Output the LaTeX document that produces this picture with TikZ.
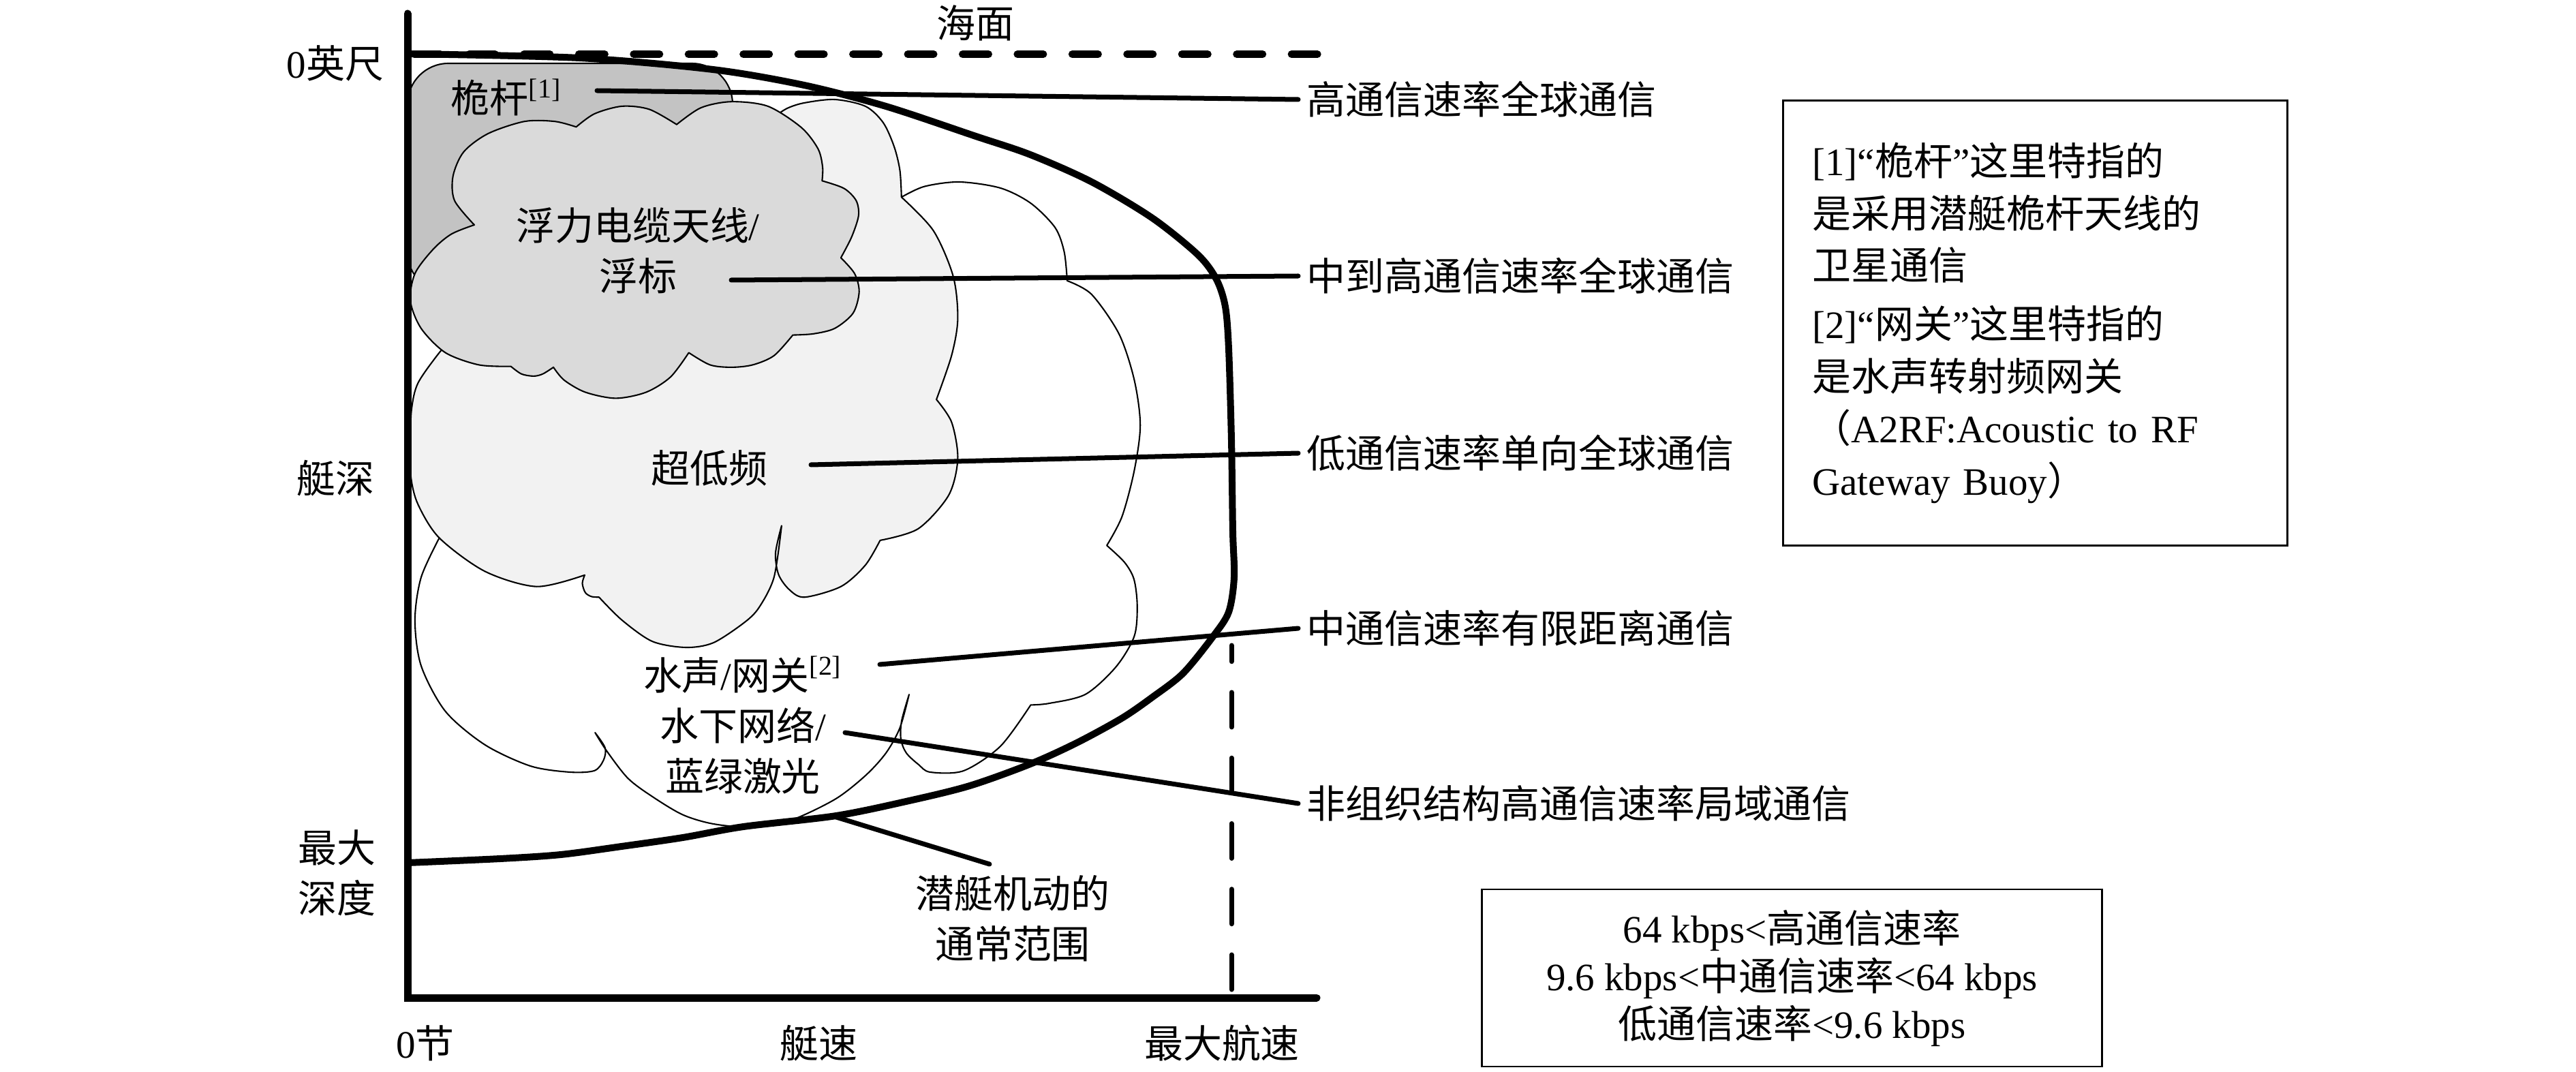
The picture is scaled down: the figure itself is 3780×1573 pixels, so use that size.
\documentclass[tikz,border=0pt]{standalone}
\usepackage{fontspec}
\setmainfont{Noto Sans CJK SC}
\newfontfamily\lt{Liberation Serif}
\newcommand\fs{\fontsize{16.2pt}{21pt}\selectfont}
\definecolor{gC0}{RGB}{195,195,195}
\definecolor{gD9}{RGB}{218,218,218}
\definecolor{gF2}{RGB}{242,242,242}
\tikzset{
  cl/.style={line width=0.021cm, line join=round},
  env/.style={line width=0.1cm, line join=round, line cap=round},
  axisline/.style={line width=0.11cm, line cap=round},
  lead/.style={line width=0.07cm, line cap=round},
  txt/.style={font=\fs, inner sep=0.05cm},
  rlbl/.style={font=\fs, anchor=west, inner xsep=0.12cm, inner ysep=0.05cm},
  framebox/.style={draw, line width=0.028cm, inner sep=0},
}
\begin{document}
\begin{tikzpicture}[x=0.01cm,y=-0.01cm]
\useasboundingbox (0,0) rectangle (3780,1573);

% acoustic cloud (white, outline only)
\draw[cl] plot[smooth] coordinates {(644.6,789.3) (617.9,847.3) (608.9,909.8) (617.9,976.8) (653.6,1043.8) (711.6,1092.9) (778.6,1124.1) (836.6,1133) (872.3,1130.8) (885.7,1115.2) (887.9,1097.3) (873.2,1075)}
 -- plot[smooth] coordinates {(873.2,1075) (890.2,1101.8) (921.4,1142) (957.1,1168.8) (1001.8,1195.5) (1046.4,1208.9) (1100,1213.4) (1158,1204.5) (1225,1173) (1270,1138) (1300,1105) (1320.5,1068) (1334,1019)}
 -- plot[smooth] coordinates {(1334,1019) (1323,1058) (1322,1085) (1330,1105) (1348,1122) (1365,1133) (1414,1131) (1468,1095) (1512.5,1034.4)}
 -- plot[smooth] coordinates {(1512.5,1034.4) (1539.3,1032.1) (1592.9,1018.75) (1637.5,978.6) (1664.3,933.9) (1668.75,889.3) (1664,850) (1650,825) (1624.1,800.4)}
 -- plot[smooth] coordinates {(1624.1,800.4) (1646.4,758) (1664.3,691) (1673.2,624) (1664.3,557) (1642,490) (1601.8,432) (1566,412)}
 -- plot[smooth] coordinates {(1566,412) (1561.6,369.6) (1548.2,333.9) (1512.5,298.2) (1467.9,275.9) (1407.6,267) (1356.25,273.7) (1322.8,289.3)};

% ELF cloud
\filldraw[cl, fill=gF2] plot[smooth] coordinates {(1135,172) (1155,159) (1180,151) (1225,146) (1270,156) (1296,180) (1312,215) (1320.5,250) (1322.8,289.3)}
 -- plot[smooth] coordinates {(1322.8,289.3) (1369.6,338.4) (1398.7,405.4) (1405.4,467.9) (1396.4,521.4) (1374.1,586.2)}
 -- plot[smooth] coordinates {(1374.1,586.2) (1396.4,619.6) (1405.4,673.2) (1392,726.8) (1347.3,775.9) (1291.5,792.9)}
 -- plot[smooth] coordinates {(1291.5,792.9) (1269.6,829.5) (1233.9,860.7) (1180.4,876.3) (1158,865) (1142.4,842.9) (1138,811.6) (1146.9,771.4)}
 -- plot[smooth] coordinates {(1146.9,771.4) (1135.7,847.3) (1113.4,892) (1091.1,914.3) (1046.4,943.3) (1006.2,950) (957.1,941.1) (912.5,909.8) (879,876.3)}
 -- plot[smooth] coordinates {(879,876.3) (867.9,875.4) (858.9,869.6) (854.5,856) (858,843.8)}
 -- plot[smooth] coordinates {(858,843.8) (787.5,860.7) (711.6,838.4) (644.6,789.3) (613.4,740.2) (603,700) (602,650) (604,600) (613.4,562) (644.6,517.5) (662,500)}
 -- (700,400) -- (1100,250) -- cycle;

% mast region
\filldraw[cl, fill=gC0, rounded corners=0.6cm] (598,93) rectangle (1075,430);

% buoy cloud
\filldraw[cl, fill=gD9] plot[smooth] coordinates {(696,330) (667,294.3) (664.7,258.6) (680.4,222.9) (716.1,196.1) (769.6,178.2) (814.3,178.2) (845.5,186.3)}
 -- plot[smooth] coordinates {(845.5,186.3) (872.3,167) (912.5,155.9) (952.7,160.4) (992.9,182.7)}
 -- plot[smooth] coordinates {(992.9,182.7) (1028.6,158.1) (1073.2,149.2) (1126.8,155.9) (1175.9,187.1) (1200.4,218.4) (1207.1,245.2) (1206.3,265.3)}
 -- plot[smooth] coordinates {(1206.3,265.3) (1238.4,276.4) (1256.3,294.3) (1259.8,316.6) (1249.6,347.9) (1233.9,378.2)}
 -- plot[smooth] coordinates {(1233.9,378.2) (1254,401.4) (1260.7,428.2) (1251.8,459.5) (1225,481.8) (1193.75,489.8) (1163.4,491.6)}
 -- plot[smooth] coordinates {(1163.4,491.6) (1135.7,521.9) (1104.5,535.4) (1073.2,538.9) (1041.9,535.4) (1010.7,517.5)}
 -- plot[smooth] coordinates {(1010.7,517.5) (983.9,553.2) (948.2,575.5) (903.6,584.4) (858.9,575.5) (827.7,557.7) (812.1,538.9)}
 -- plot[smooth] coordinates {(812.1,538.9) (796.4,548.75) (783,551.9) (765.2,548.75) (749.6,537.6)}
 -- plot[smooth] coordinates {(749.6,537.6) (702.7,535.4) (653.6,517.5) (617.9,481.8) (602.2,441.6) (608.9,401.4) (635.7,365.7) (662.5,343.4) (696,330)}
 -- cycle;

% operating envelope
\draw[env] plot[smooth, tension=0.5] coordinates {(598,79) (850,85) (1046,102) (1180,125) (1300,156) (1432,200) (1512,227) (1602,267) (1691,320) (1758,374) (1785,410) (1798,450) (1803,512) (1807,646) (1809,780) (1811,847) (1803,898) (1780,934) (1736,988) (1691,1023) (1646,1054) (1580,1090) (1512,1121) (1423,1153) (1334,1175) (1227,1197) (1091,1213) (1002,1229) (912,1242) (823,1254) (734,1260) (598,1266)};

% sea surface and max speed dashed lines
\draw[line width=0.11cm, line cap=round, dash pattern=on 0.38cm off 0.424cm] (608,79.5) -- (1934,79.5);
\draw[line width=0.07cm, line cap=round, dash pattern=on 0.51cm off 0.452cm] (1807,1452) -- (1807,947);

% axes
\draw[axisline] (598,20) -- (598,1464) -- (1932,1464);

% labels
\node[txt] (sea) at (1431,34) {海面};
\node[txt] (d0) at (492,93) {{\lt 0}英尺};
\node[txt] (dep) at (492,702) {艇深};
\node[txt, align=center] (dmax) at (494,1281) {最大\\深度};
\node[txt] (k0) at (624,1531) {{\lt 0}节};
\node[txt] (spd) at (1201,1531) {艇速};
\node[txt] (vmax) at (1793,1531) {最大航速};

\node[txt] (mast) at (743,143) {桅杆\textsuperscript{\lt{}[1]}};
\node[txt, align=center] (buoy) at (936,368) {浮力电缆天线{\lt/}\\浮标};
\node[txt] (elf) at (1041,687) {超低频};
\node[txt, align=center] (acou) at (1090,1064) {水声{\lt/}网关\textsuperscript{\lt{}[2]}\\水下网络{\lt/}\\蓝绿激光};
\node[txt, align=center] (range) at (1486,1348) {潜艇机动的\\通常范围};

\node[rlbl] (r1) at (1905,146) {高通信速率全球通信};
\node[rlbl] (r2) at (1905,405) {中到高通信速率全球通信};
\node[rlbl] (r3) at (1905,665) {低通信速率单向全球通信};
\node[rlbl] (r4) at (1905,922) {中通信速率有限距离通信};
\node[rlbl] (r5) at (1905,1179) {非组织结构高通信速率局域通信};

% leader lines
\coordinate (s1) at (876,133);
\coordinate (s2) at (1073,411);
\coordinate (s3) at (1190,682);
\coordinate (s4) at (1291,975);
\coordinate (s5) at (1240,1075);
\coordinate (s6) at (1227,1199);
\coordinate (e6) at (1452,1268);
\draw[lead] (s1) -- (r1.west);
\draw[lead] (s2) -- (r2.west);
\draw[lead] (s3) -- (r3.west);
\draw[lead] (s4) -- (r4.west);
\draw[lead] (s5) -- (r5.west);
\draw[lead] (s6) -- (e6);

% notes
\node[framebox, anchor=north west, minimum width=7.4cm, minimum height=6.53cm, text width=6.54cm, align=left, font=\fontsize{16.2pt}{21.8pt}\selectfont] (note) at (2615,146)
 {{\lt{}[1]“}桅杆{\lt ”}这里特指的\\是采用潜艇桅杆天线的\\卫星通信\\[0.09cm]{\lt{}[2]“}网关{\lt ”}这里特指的\\是水声转射频网关\\（{\lt A2RF:Acoustic to RF}\\{\lt Gateway Buoy}）};
\node[framebox, minimum width=9.1cm, minimum height=2.6cm, align=center, font=\fontsize{16.2pt}{19.9pt}\selectfont] (rates) at (2629.5,1435)
 {{\lt 64 kbps<}高通信速率\\{\lt 9.6 kbps<}中通信速率{\lt <64 kbps}\\低通信速率{\lt <9.6 kbps}};
\end{tikzpicture}
\end{document}
